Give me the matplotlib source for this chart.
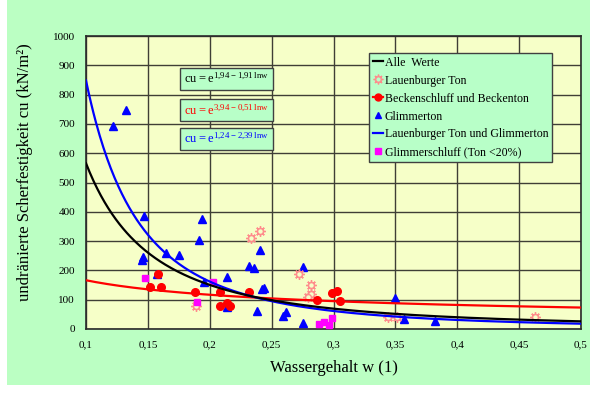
import numpy as np
import matplotlib
matplotlib.use("Agg")
import matplotlib.pyplot as plt
from matplotlib.lines import Line2D
from matplotlib.patches import Rectangle
from matplotlib.legend_handler import HandlerTuple

plt.rcParams['font.family'] = ['Liberation Serif', 'DejaVu Serif']
plt.rcParams['mathtext.fontset'] = 'custom'
plt.rcParams['mathtext.rm'] = 'Liberation Serif'

# --- measured data: water content w (1) and undrained shear strength cu (kN/m²)
glimmerton_w = [0.122, 0.132, 0.147, 0.146, 0.145, 0.157, 0.165, 0.175, 0.191, 0.194,
                0.195, 0.214, 0.214, 0.232, 0.236, 0.238, 0.241, 0.242, 0.244, 0.259,
                0.262, 0.275, 0.275, 0.350, 0.357, 0.382]
glimmerton_cu = [693, 747, 387, 247, 235, 187, 260, 253, 304, 374,
                 161, 178, 76, 215, 207, 63, 270, 137, 141, 45,
                 59, 211, 22, 107, 33, 27]

lauenburg_w = [0.189, 0.233, 0.241, 0.272, 0.282, 0.282, 0.279, 0.344, 0.351, 0.463]
lauenburg_cu = [77, 312, 334, 188, 150, 118, 110, 40, 40, 40]

becken_w = [0.152, 0.161, 0.158, 0.188, 0.208, 0.208, 0.214, 0.216, 0.232, 0.287,
            0.299, 0.303, 0.305]
becken_cu = [144, 144, 188, 127, 127, 80, 90, 78, 127, 99, 124, 128, 96]

glimmerschluff_w = [0.148, 0.190, 0.203, 0.288, 0.292, 0.296, 0.299]
glimmerschluff_cu = [173, 92, 160, 17, 25, 14, 36]

# regression fits cu = exp(a - b ln w)
fit_all = (1.94, 1.91)
fit_becken = (3.94, 0.51)
fit_lg = (1.24, 2.39)

x_ticks = [0.1, 0.15, 0.2, 0.25, 0.3, 0.35, 0.4, 0.45, 0.5]
x_tick_labels = ['0,1', '0,15', '0,2', '0,25', '0,3', '0,35', '0,4', '0,45', '0,5']
y_ticks = list(range(0, 1001, 100))

BG_FIG = '#BBFFC3'
BG_AX = '#F6FFC8'
BOX_BG = '#B8FFC8'
GRID = '#3f3f36'
SUN = '#FF8C8C'

fig = plt.figure(figsize=(5.97, 3.99), dpi=100, facecolor='white')
fig.patches.append(Rectangle((7 / 597, 1 - 385 / 399), (590 - 7) / 597, 385 / 399,
                             transform=fig.transFigure, fc=BG_FIG, ec='none', zorder=-10))

ax = fig.add_axes([86 / 597, 1 - 329 / 399, 495 / 597, 293 / 399])
ax.set_facecolor(BG_AX)
ax.set_xlim(0.1, 0.5)
ax.set_ylim(0, 1000)
ax.set_xticks(x_ticks)
ax.set_xticklabels(x_tick_labels)
ax.set_yticks(y_ticks)
ax.tick_params(axis='both', length=0, labelsize=8)
ax.tick_params(axis='x', pad=8)
ax.tick_params(axis='y', pad=8)
ax.grid(True, color=GRID, lw=1.0)
ax.set_axisbelow(True)
for s in ax.spines.values():
    s.set_color('#2a2a2a')
    s.set_linewidth(1.2)

ax.set_xlabel('Wassergehalt w (1)', fontsize=12, labelpad=8)
fig.text(25 / 597, 1 - 172 / 399, 'undränierte Scherfestigkeit cu (kN/m²)',
         rotation=90, fontsize=12, ha='center', va='center')

w = np.linspace(0.1, 0.5, 400)
def fit(p):
    return np.exp(p[0] - p[1] * np.log(w))

# points
ax.plot(glimmerton_w, glimmerton_cu, ls='none', marker='^', ms=5.5, color='#0000FF', zorder=3)
ax.plot(lauenburg_w, lauenburg_cu, ls='none', marker=(8, 2, 0), ms=7.5, mew=1.0,
        color=SUN, zorder=3)
ax.plot(lauenburg_w, lauenburg_cu, ls='none', marker='o', ms=4.2, mew=1.0,
        mfc=BG_AX, mec=SUN, zorder=3)
ax.plot(becken_w, becken_cu, ls='none', marker='o', ms=5.5, color='#FF0000', zorder=4)
ax.plot(glimmerschluff_w, glimmerschluff_cu, ls='none', marker='s', ms=4.2,
        color='#FF00FF', zorder=4)

# fitted curves
ax.plot(w, fit(fit_becken), color='#FF0000', lw=1.6, zorder=5)
ax.plot(w, fit(fit_lg), color='#0000FF', lw=1.6, zorder=5)
ax.plot(w, fit(fit_all), color='#000000', lw=1.6, zorder=5)

# equation boxes
eqs = [(fit_all, '#000000', 0.853), (fit_becken, '#FF0000', 0.746), (fit_lg, '#0000FF', 0.650)]
for (a, b), col, yy in eqs:
    sa = f'{a:.2f}'.replace('.', '{,}')
    sb = f'{b:.2f}'.replace('.', '{,}')
    s = r'$\mathregular{cu = e^{' + sa + '-' + sb + r'\,lnw}}$'
    ax.text(0.198, yy, s, transform=ax.transAxes, fontsize=9, color=col,
            ha='left', va='center', zorder=6,
            bbox=dict(boxstyle='square,pad=0.3', fc=BOX_BG, ec='#404040', lw=1.0))

# legend
h_all = Line2D([], [], color='k', lw=1.6)
h_sun = (Line2D([], [], ls='none', marker=(8, 2, 0), ms=7, mew=1.0, color=SUN),
         Line2D([], [], ls='none', marker='o', ms=4, mew=1.0, mfc=BOX_BG, mec=SUN))
h_becken = Line2D([], [], color='#FF0000', lw=1.6, marker='o', ms=5)
h_glim = Line2D([], [], ls='none', marker='^', ms=5, color='#0000FF')
h_lg = Line2D([], [], color='#0000FF', lw=1.6)
h_gs = Line2D([], [], ls='none', marker='s', ms=4, color='#FF00FF')
leg = fig.legend([h_all, h_sun, h_becken, h_glim, h_lg, h_gs],
                 ['Alle  Werte', 'Lauenburger Ton', 'Beckenschluff und Beckenton',
                  'Glimmerton', 'Lauenburger Ton und Glimmerton',
                  'Glimmerschluff (Ton <20%)'],
                 handler_map={tuple: HandlerTuple(ndivide=1)},
                 loc='upper left', bbox_to_anchor=(369 / 597, 1 - 53 / 399),
                 fontsize=8.6, handlelength=0.9, handletextpad=0.1,
                 labelspacing=0.5, borderpad=0.3, borderaxespad=0,
                 fancybox=False, framealpha=1, facecolor=BOX_BG, edgecolor='#404040')
leg.get_frame().set_linewidth(1.0)
leg.set_zorder(10)

fig.savefig('out.png', dpi=100, facecolor=fig.get_facecolor())
